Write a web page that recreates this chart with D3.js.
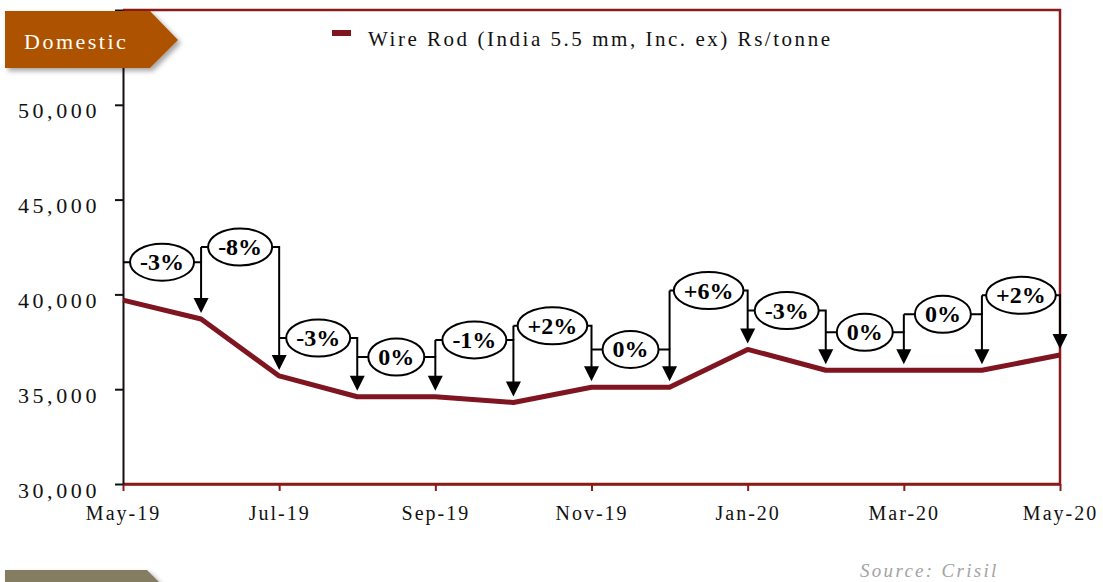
<!DOCTYPE html>
<html lang="en">
<head>
    <meta charset="UTF-8">
    <title>Wire Rod Domestic Price</title>
    <script src="https://d3js.org/d3.v7.min.js"></script>
    <style>
        body { margin: 0; background: #fff; }
        svg { display: block; }
        .serif { font-family: "Liberation Serif", "DejaVu Serif", serif; }
    </style>
</head>
<body>
    <svg id="chart" width="1103" height="582"></svg>

    <script>
        // monthly prices, Rs/tonne
        const months = ["May-19", "Jun-19", "Jul-19", "Aug-19", "Sep-19", "Oct-19", "Nov-19",
                        "Dec-19", "Jan-20", "Feb-20", "Mar-20", "Apr-20", "May-20"];
        const wireRod = [39700, 38700, 35700, 34600, 34600, 34300, 35100,
                         35100, 37100, 36000, 36000, 36000, 36800];
        // month-on-month change callouts
        const changeLabels = ["-3%", "-8%", "-3%", "0%", "-1%", "+2%", "0%", "+6%", "-3%", "0%", "0%", "+2%"];
        const calloutLevels = [41700, 42500, 37700, 36700, 37600, 38350, 37100, 40200, 39150, 38000, 38950, 39950];
        const yTicks = [30000, 35000, 40000, 45000, 50000, 55000];
        const xTickLabels = ["May-19", "Jul-19", "Sep-19", "Nov-19", "Jan-20", "Mar-20", "May-20"];

        const svg = d3.select("#chart");
        const plotLeft = 123, plotRight = 1060, plotTop = 10, plotBottom = 484;
        const lineColor = "#7f1520";
        const frameColor = "#8b1a1a";

        const x = d3.scalePoint().domain(months).range([plotLeft, plotRight]);
        const y = d3.scaleLinear().domain([30000, 55000]).range([plotBottom, plotTop]);

        const defs = svg.append("defs");
        const shadow = defs.append("filter").attr("id", "shadow")
            .attr("x", "-10%").attr("y", "-10%").attr("width", "130%").attr("height", "140%");
        shadow.append("feDropShadow")
            .attr("dx", 3).attr("dy", 3).attr("stdDeviation", 2.5)
            .attr("flood-color", "#000").attr("flood-opacity", 0.35);

        // plot frame
        svg.append("path")
            .attr("d", `M${plotLeft},${plotTop} H${plotRight} V${plotBottom} H${plotLeft}`)
            .attr("fill", "none")
            .attr("stroke", frameColor)
            .attr("stroke-width", 2.5);

        // x axis
        const xAxis = svg.append("g")
            .attr("transform", `translate(0,${plotBottom})`)
            .call(d3.axisBottom(x).tickValues(xTickLabels).tickSize(7).tickSizeOuter(0).tickPadding(15));
        xAxis.select(".domain").attr("stroke", frameColor).attr("stroke-width", 2.5);
        xAxis.selectAll(".tick line").attr("stroke", frameColor).attr("stroke-width", 2);
        xAxis.selectAll(".tick text")
            .attr("class", "serif")
            .attr("fill", "#111")
            .style("font-size", "20px")
            .style("letter-spacing", "2px");

        // y axis
        const yAxis = svg.append("g")
            .attr("transform", `translate(${plotLeft},0)`)
            .call(d3.axisLeft(y).tickValues(yTicks).tickSize(8).tickSizeOuter(0)
                .tickFormat(d => d === 55000 ? "" : d3.format(",")(d)));
        yAxis.select(".domain").attr("stroke", "#1a0d0d").attr("stroke-width", 2);
        yAxis.selectAll(".tick line").attr("stroke", "#111").attr("stroke-width", 2);
        yAxis.selectAll(".tick text")
            .attr("class", "serif")
            .attr("x", -23)
            .attr("dy", 13)
            .attr("fill", "#111")
            .style("font-size", "22px")
            .style("letter-spacing", "3.6px");

        // price line
        const line = d3.line()
            .x((d, i) => x(months[i]))
            .y(d => y(d));

        svg.append("path")
            .datum(wireRod)
            .attr("d", line)
            .attr("fill", "none")
            .attr("stroke", lineColor)
            .attr("stroke-width", 5)
            .attr("stroke-linejoin", "round");

        // callout brackets and arrows
        const tipGap = 6, headLen = 15, headHalf = 7.5;
        const callouts = svg.append("g");

        changeLabels.forEach((label, i) => {
            const x0 = x(months[i]), x1 = x(months[i + 1]);
            const lv = y(calloutLevels[i]);
            const tip = y(wireRod[i + 1]) - tipGap;

            callouts.append("path")
                .attr("d", `M${x0},${lv} H${x1} V${tip - headLen + 1}`)
                .attr("fill", "none")
                .attr("stroke", "#000")
                .attr("stroke-width", 2);

            // join to the previous arrow when this bracket sits higher
            if (i > 0 && calloutLevels[i] > calloutLevels[i - 1]) {
                callouts.append("line")
                    .attr("x1", x0).attr("x2", x0)
                    .attr("y1", lv).attr("y2", y(calloutLevels[i - 1]))
                    .attr("stroke", "#000")
                    .attr("stroke-width", 2);
            }

            callouts.append("path")
                .attr("d", `M${x1 - headHalf},${tip - headLen} L${x1 + headHalf},${tip - headLen} L${x1},${tip} Z`)
                .attr("fill", "#000");

            const g = callouts.append("g")
                .attr("transform", `translate(${(x0 + x1) / 2},${lv})`);
            const ell = g.append("ellipse")
                .attr("fill", "#fff")
                .attr("stroke", "#000")
                .attr("stroke-width", 2);
            const txt = g.append("text")
                .attr("class", "serif")
                .attr("text-anchor", "middle")
                .attr("dy", 8)
                .attr("font-weight", "bold")
                .style("font-size", "24px")
                .text(label);
            const w = txt.node().getComputedTextLength();
            ell.attr("rx", w / 2 + 10).attr("ry", 18.5);
        });

        // legend
        svg.append("rect")
            .attr("x", 332).attr("y", 30)
            .attr("width", 19).attr("height", 6)
            .attr("fill", lineColor);
        svg.append("text")
            .attr("class", "serif")
            .attr("x", 368).attr("y", 46)
            .attr("textLength", 462)
            .attr("lengthAdjust", "spacing")
            .attr("fill", "#111")
            .style("font-size", "21px")
            .text("Wire Rod (India 5.5 mm, Inc. ex) Rs/tonne");

        // section banners
        svg.append("path")
            .attr("d", "M5,11 H150 L178,40 L150,68 H5 Z")
            .attr("fill", "#ad5200")
            .attr("filter", "url(#shadow)");
        svg.append("text")
            .attr("class", "serif")
            .attr("x", 24).attr("y", 49)
            .attr("fill", "#fff")
            .style("font-size", "22px")
            .style("letter-spacing", "2.5px")
            .text("Domestic");

        svg.append("path")
            .attr("d", "M5,570 H147 L160,583 H5 Z")
            .attr("fill", "#857d62")
            .attr("filter", "url(#shadow)");

        svg.append("text")
            .attr("class", "serif")
            .attr("x", 860).attr("y", 577)
            .attr("fill", "#a3a3a3")
            .style("font-size", "19px")
            .style("font-style", "italic")
            .style("letter-spacing", "2.3px")
            .text("Source: Crisil");
    </script>
</body>
</html>
